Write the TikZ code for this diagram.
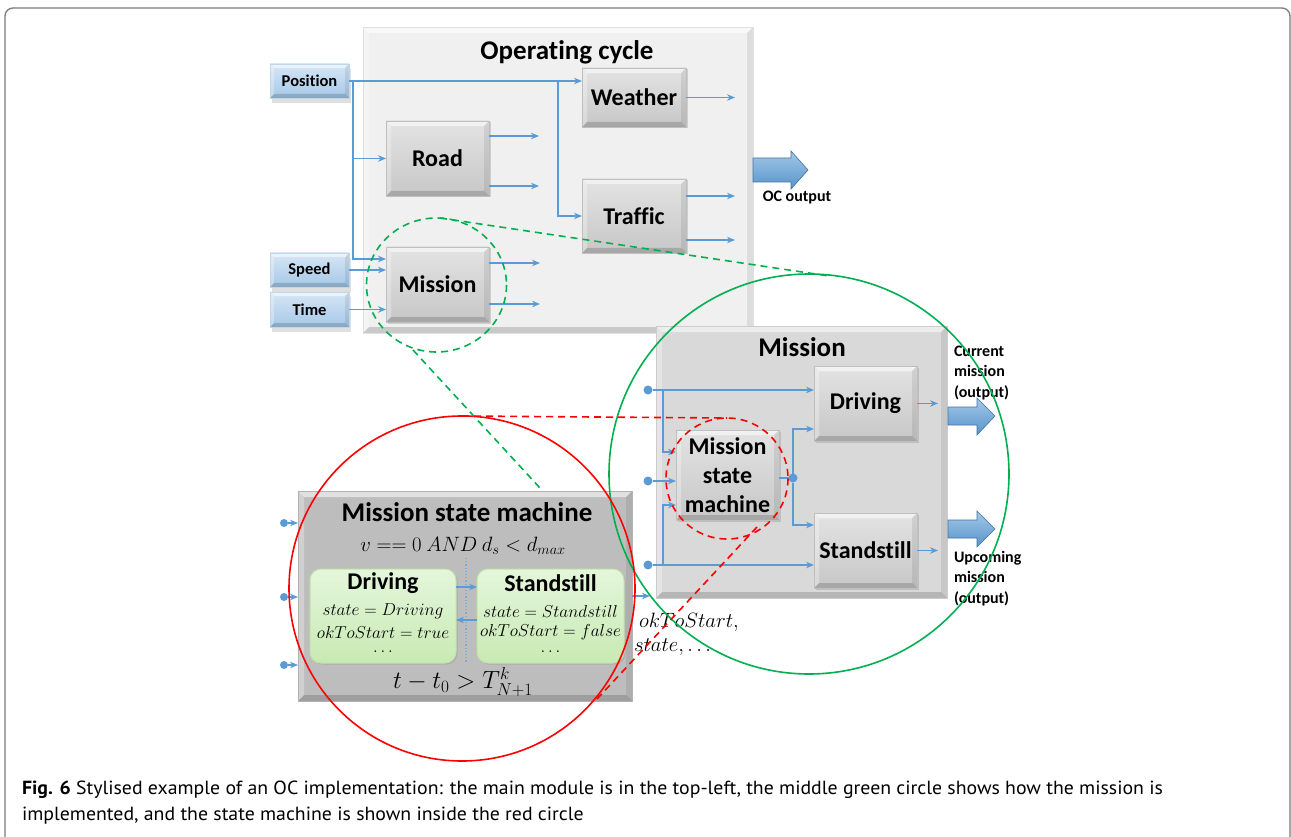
\documentclass[tikz,border=0pt]{standalone}
\usepackage{fontspec}
\usepackage{graphicx}
\setmainfont{Carlito}[Ligatures={NoCommon,NoContextual}, Contextuals=NoAlternate]
\newfontfamily\capfont{PT Sans}
\usetikzlibrary{arrows.meta,calc,shadows}
\definecolor{lb}{HTML}{5B9BD5}
\definecolor{lbd}{HTML}{41719C}
\definecolor{gc}{HTML}{00B050}
\definecolor{rc}{HTML}{FF0000}
\definecolor{framec}{HTML}{7A7A7A}
\newlength\capw
\newcommand\capone{\textbf{Fig. 6} Stylised example of an OC implementation: the main module is in the top-left, the middle green circle shows how the mission is}
\tikzset{
  bevel/.style={path picture={
    \fill[white,opacity=0.55] (path picture bounding box.north west) -- (path picture bounding box.north east) -- ([xshift=-#1,yshift=-#1]path picture bounding box.north east) -- ([xshift=#1,yshift=-#1]path picture bounding box.north west) -- cycle;
    \fill[white,opacity=0.3] (path picture bounding box.north west) -- ([xshift=#1,yshift=-#1]path picture bounding box.north west) -- ([xshift=#1,yshift=#1]path picture bounding box.south west) -- (path picture bounding box.south west) -- cycle;
    \fill[black,opacity=0.16] (path picture bounding box.south west) -- ([xshift=#1,yshift=#1]path picture bounding box.south west) -- ([xshift=-#1,yshift=#1]path picture bounding box.south east) -- (path picture bounding box.south east) -- cycle;
    \fill[black,opacity=0.08] (path picture bounding box.north east) -- ([xshift=-#1,yshift=-#1]path picture bounding box.north east) -- ([xshift=-#1,yshift=#1]path picture bounding box.south east) -- (path picture bounding box.south east) -- cycle;
  }},
  ocbox/.style={rectangle, fill=black!6, draw=black!12, bevel=6pt},
  detbox/.style={rectangle, fill=black!15, draw=black!20, bevel=6pt},
  smbox/.style={rectangle, fill=black!26, draw=black!30, bevel=6pt},
  gbox/.style={rectangle, top color=black!11, bottom color=black!22, draw=black!25, bevel=5pt,
    drop shadow={opacity=0.3, shadow xshift=1.5pt, shadow yshift=-1.5pt},
    font=\bfseries\fontsize{24}{29}\selectfont, align=center},
  bbox/.style={rectangle, top color=lb!25, bottom color=lb!55, draw=lb!40, bevel=4pt,
    drop shadow={opacity=0.25, shadow xshift=2pt, shadow yshift=-5pt},
    font=\bfseries\fontsize{16.5}{19}\selectfont},
  stbox/.style={rectangle, rounded corners=11pt, top color=green!50!olive!14!white, bottom color=green!45!olive!30!white,
    draw=green!40!olive!35!white, line width=1pt, drop shadow={opacity=0.25, shadow xshift=1.5pt, shadow yshift=-1.5pt}},
  conn/.style={draw=lb, line width=1.8pt, -{Stealth[length=8pt,width=6.5pt]}},
  plain/.style={draw=lb, line width=1.8pt},
  dotc/.style={circle, fill=lb, minimum size=9pt},
  dsh/.style={line width=1.6pt, dash pattern=on 7pt off 5pt},
  blk/.style={top color=lb!55, bottom color=lb!95!black, draw=lb!75!black, line width=0.6pt},
  mth/.style={font=\fontsize{17}{21}\selectfont}
}
\begin{document}
\begin{tikzpicture}[x=1pt,y=-1pt, every node/.append style={inner sep=0pt, outer sep=0pt}]
\useasboundingbox (0,0) rectangle (1291,837);
\fill[white] (0,0) rectangle (1291,837);
\draw[framec, line width=1.3pt, rounded corners=8pt] (5,860) -- (5,8) -- (1290,8) -- (1290,860);

% ---------- Operating cycle ----------
\node[ocbox, minimum width=390, minimum height=306] (oc) at (558,180) {};
\node[font=\bfseries\fontsize{27}{30}\selectfont] (octitle) at (567,52) {Operating cycle};

\node[bbox, minimum width=79, minimum height=34] (pos) at (309.5,81) {Position};
\node[bbox, minimum width=79, minimum height=34] (spd) at (309.5,270) {Speed};
\node[bbox, minimum width=79, minimum height=35] (tim) at (309.5,309.5) {Time};

\node[gbox, minimum width=104, minimum height=59] (wea) at (634,97.5) {Weather};
\node[gbox, minimum width=103, minimum height=75] (road) at (437.5,158.5) {Road};
\node[gbox, minimum width=104, minimum height=74] (traf) at (634,216) {Traffic};
\node[gbox, minimum width=103, minimum height=75] (mis) at (437.5,284.5) {Mission};

\coordinate (j1) at (353,81);
\coordinate (j2) at (558,81);
\draw[conn] (pos.east) -- (pos.east -| wea.west);
\draw[conn] (j1) |- ($(mis.north west)+(0,12)$);
\draw[conn] (j1 |- road.west) -- (road.west);
\draw[conn] (j2) |- (traf.west);
\draw[conn] (spd.east) -- (spd.east -| mis.west);
\draw[conn] (tim.east) -- (tim.east -| mis.west);
\draw[conn] (wea.east) -- +(49,0);
\draw[conn] ($(road.north east)+(0,15)$) -- +(50,0);
\draw[conn] ($(road.south east)+(0,-10)$) -- +(50,0);
\draw[conn] ($(traf.north east)+(0,17)$) -- +(49,0);
\draw[conn] ($(traf.south east)+(0,-13)$) -- +(49,0);
\draw[conn] ($(mis.north east)+(0,16)$) -- +(51,0);
\draw[conn] ($(mis.south east)+(0,-18)$) -- +(51,0);

\shadedraw[blk] (753,158) -- (791,158) -- (791,151) -- (808,170) -- (791,189) -- (791,182) -- (753,182) -- cycle;
\node[font=\bfseries\fontsize{16}{19}\selectfont] (ocout) at (797,198) {OC output};

% ---------- Mission detail ----------
\node[detbox, minimum width=291, minimum height=272] (det) at (801.5,462) {};
\node[font=\bfseries\fontsize{27}{30}\selectfont] (dettitle) at (802,347) {Mission};
\node[gbox, minimum width=103, minimum height=75] (drv) at (865.5,403.5) {Driving};
\node[gbox, minimum width=103, minimum height=90] (msm) at (727.5,475) {Mission\\state\\machine};
\node[gbox, minimum width=103, minimum height=75] (sst) at (865.5,550.5) {Standstill};

\node[dotc] (d1) at (648,390) {};
\node[dotc] (d2) at (648,481) {};
\node[dotc] (d3) at (648,565) {};
\coordinate (b1) at (663,390);
\coordinate (b3) at (663,565);
\draw[conn] (d1) -- (d1 -| drv.west);
\draw[conn] (b1) |- ($(msm.north west)+(0,22)$);
\draw[conn] (d2) -- (d2 -| msm.west);
\draw[conn] (b3) |- ($(msm.south west)+(0,-15)$);
\draw[conn] (d3) -- (d3 -| sst.west);
\node[dotc] (d4) at (793,478) {};
\draw[plain] ($(msm.east)+(0,3)$) -- (d4);
\draw[conn] (d4) |- ($(drv.north west)+(0,63)$);
\draw[conn] (d4) |- ($(sst.north west)+(0,12)$);
\draw[conn] (drv.east) -- +(21,0);
\draw[conn] (sst.east) -- +(21,0);

\shadedraw[blk] (948,407) -- (977,407) -- (977,398) -- (995,416) -- (977,435) -- (977,425) -- (948,425) -- cycle;
\shadedraw[blk] (948,520) -- (977,520) -- (977,511) -- (995,529) -- (977,547) -- (977,538) -- (948,538) -- cycle;
\node[anchor=north west, align=left, font=\bfseries\fontsize{16}{20.5}\selectfont] (curtxt) at (954,346) {Current\\mission\\(output)};
\node[anchor=north west, align=left, font=\bfseries\fontsize{16}{20.5}\selectfont] (uptxt) at (954,551) {Upcoming\\mission\\(output)};

% ---------- Mission state machine ----------
\node[smbox, minimum width=334, minimum height=210] (smb) at (465,596) {};
\node[font=\bfseries\fontsize{27}{30}\selectfont] (smtitle) at (467,512) {Mission state machine};
\node[font=\fontsize{20}{24}\selectfont] (cond1) at (463,546) {$v == 0\ AND\ d_s < d_{max}$};
\node[stbox, minimum width=146, minimum height=94] (sdrv) at (383,616) {};
\node[stbox, minimum width=147, minimum height=94] (ssst) at (550.5,616) {};
\node[font=\bfseries\fontsize{24}{28}\selectfont] (sdrvt) at (383,583) {Driving};
\node[font=\bfseries\fontsize{24}{28}\selectfont] (ssstt) at (550.5,583) {Standstill};
\node[mth] (sdrv1) at (383,611) {$state = Driving$};
\node[mth] (sdrv2) at (383,632) {$okToStart = true$};
\node[mth] (sdrv3) at (383,652) {$\ldots$};
\node[mth] (ssst1) at (550.5,611) {$state = Standstill$};
\node[mth] (ssst2) at (550.5,632) {$okToStart = false$};
\node[mth] (ssst3) at (550.5,652) {$\ldots$};
\coordinate (dt1) at (466,558);
\coordinate (dt2) at (466,663);
\draw[lb!80, line width=1.2pt, dotted] (dt1) -- (dt2);
\draw[conn, line width=1.3pt] ($(sdrv.north east)+(0,18)$) -- ($(ssst.north west)+(0,18)$);
\draw[conn, line width=1.3pt] ($(ssst.north west)+(0,51)$) -- ($(sdrv.north east)+(0,51)$);
\node[font=\fontsize{24}{28}\selectfont] (cond2) at (463,682) {$t - t_0 > T^k_{N+1}$};

\node[dotc, minimum size=8pt] (e1) at (284,523) {};
\node[dotc, minimum size=8pt] (e2) at (284,597) {};
\node[dotc, minimum size=8pt] (e3) at (284,665) {};
\draw[conn, line width=1.3pt] (e1) -- (e1 -| smb.west);
\draw[conn, line width=1.3pt] (e2) -- (e2 -| smb.west);
\draw[conn, line width=1.3pt] (e3) -- (e3 -| smb.west);
\coordinate (smout) at (650,596);
\draw[conn, line width=1.3pt] (smb.east) -- (smout);
\node[anchor=west, font=\fontsize{20}{24}\selectfont] (ok1) at (639,622) {$okToStart,$};
\node[anchor=west, font=\fontsize{20}{24}\selectfont] (ok2) at (634,647) {$state, \ldots$};

% ---------- circles and zoom lines ----------
\draw[gc, dsh] (436.5,285) ellipse [x radius=70, y radius=67];
\draw[gc, line width=1.6pt] (809,474) circle [radius=200];
\draw[rc, line width=1.6pt] (462,588.5) ellipse [x radius=173, y radius=172.5];
\draw[rc, dsh] (727,478.5) ellipse [x radius=61, y radius=60.5];
\coordinate (g1a) at (440,218);
\coordinate (g1b) at (829,276);
\coordinate (g2a) at (413,350);
\coordinate (g2b) at (540,488);
\coordinate (r1a) at (462,416);
\coordinate (r1b) at (727,418);
\coordinate (r2a) at (757,527);
\coordinate (r2b) at (597,699);
\draw[gc, dsh] (g1a) -- (g1b);
\draw[gc, dsh] (g2a) -- (g2b);
\draw[rc, dsh] (r1a) -- (r1b);
\draw[rc, dsh] (r2a) -- (r2b);

% ---------- caption ----------
\node[anchor=west] (cap1) at (22,790) {\capfont\fontsize{19}{22}\selectfont\settowidth\capw{\capone}\pgfmathsetmacro\capsx{1141/\capw}\xdef\capsxg{\capsx}\scalebox{\capsx}[1]{\capone}};
\node[anchor=west] (cap2) at (22,816) {\scalebox{\capsxg}[1]{\capfont\fontsize{19}{22}\selectfont implemented, and the state machine is shown inside the red circle}};
\end{tikzpicture}
\end{document}
